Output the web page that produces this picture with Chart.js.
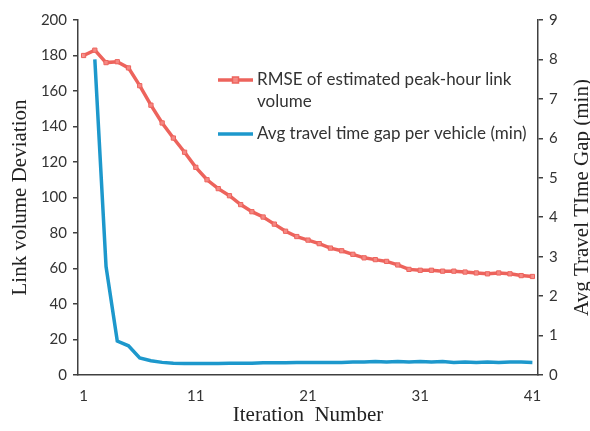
<!DOCTYPE html>
<html><head><meta charset="utf-8">
<script src="https://cdn.jsdelivr.net/npm/chart.js@4"></script>
<style>html,body{margin:0;padding:0;background:#fff}#wrap{width:590px;height:431px}</style>
</head><body><div id="wrap"><canvas id="c" width="590" height="431"></canvas></div>
<script>
const iterations = Array.from({length: 41}, (_, i) => String(i + 1));
const xTickLabels = ['1', '11', '21', '31', '41'];
const seriesNames = ['RMSE of estimated peak-hour link volume', 'Avg travel time gap per vehicle (min)'];
const rmseValues = [180, 183, 176, 176.5, 173, 163, 152, 142, 133.5, 125.5, 117, 110, 105, 101, 96, 92, 89, 85, 81, 78, 76, 74, 71.5, 70, 68, 66, 65, 64, 62, 59.5, 59, 59, 58.5, 58.5, 58, 57.5, 57, 57.5, 57, 56, 55.5];
const gapValues = [null, 8.0, 2.75, 0.86, 0.74, 0.43, 0.36, 0.32, 0.3, 0.29, 0.29, 0.29, 0.29, 0.3, 0.3, 0.3, 0.31, 0.31, 0.31, 0.32, 0.32, 0.32, 0.32, 0.32, 0.33, 0.33, 0.34, 0.33, 0.34, 0.33, 0.34, 0.33, 0.34, 0.32, 0.33, 0.32, 0.33, 0.32, 0.33, 0.33, 0.32];
const leftTitle = 'Link volume Deviation';
const rightTitle = 'Avg Travel TIme Gap (min)';
const xTitle = 'Iteration  Number';

const RED = 'rgb(237,99,92)';
const BLUE = 'rgb(29,152,204)';
const AXIS = '#404040';
const tickFont = {family: 'Lato', size: 15};
const titleFont = {family: 'Liberation Serif', size: 21};

const legendPlugin = {
  id: 'customLegend',
  afterDraw(chart) {
    const ctx = chart.ctx;
    const ca = chart.chartArea;
    const x0 = ca.left + 140, x1 = ca.left + 175, tx = ca.left + 179;
    let y = ca.top + 60;
    ctx.save();
    ctx.font = '17px Lato';
    ctx.textBaseline = 'middle';
    chart.data.datasets.forEach((ds) => {
      const words = ds.label.split(' ');
      const lines = [];
      let cur = '';
      words.forEach(w => {
        const t = cur ? cur + ' ' + w : w;
        if (ctx.measureText(t).width > 270 && cur) { lines.push(cur); cur = w; } else cur = t;
      });
      lines.push(cur);
      ctx.strokeStyle = ds.borderColor;
      ctx.lineWidth = 3.5;
      ctx.beginPath(); ctx.moveTo(x0, y); ctx.lineTo(x1, y); ctx.stroke();
      if (ds.pointRadius > 0) {
        ctx.fillStyle = ds.pointBackgroundColor;
        ctx.strokeStyle = ds.borderColor;
        ctx.lineWidth = 1.5;
        ctx.fillRect((x0 + x1) / 2 - 3, y - 3, 6, 6);
        ctx.strokeRect((x0 + x1) / 2 - 3, y - 3, 6, 6);
      }
      ctx.fillStyle = '#333';
      lines.forEach((l, k) => ctx.fillText(l, tx, y + k * 22));
      y += (lines.length - 1) * 22 + 32;
    });
    const ra = chart.scales.y1;
    ctx.font = titleFont.size + 'px "' + titleFont.family + '"';
    ctx.fillStyle = '#222';
    ctx.textAlign = 'center';
    ctx.translate(ra.right - 8, (ca.top + ca.bottom) / 2);
    ctx.rotate(-Math.PI / 2);
    ctx.fillText(rightTitle, 0, 0);
    ctx.restore();
  }
};

new Chart(document.getElementById('c'), {
  type: 'line',
  data: {
    labels: iterations,
    datasets: [
      {label: seriesNames[0], data: rmseValues, yAxisID: 'y', borderColor: RED, borderWidth: 3.5,
       pointStyle: 'rect', pointRadius: 3, pointBorderWidth: 1, pointBackgroundColor: 'rgba(245,140,135,0.9)', pointBorderColor: RED, tension: 0},
      {label: seriesNames[1], data: gapValues, yAxisID: 'y1', borderColor: BLUE, borderWidth: 3.5,
       pointRadius: 0, tension: 0, spanGaps: false}
    ]
  },
  options: {
    responsive: false,
    animation: false,
    devicePixelRatio: 1,
    layout: {padding: {top: 20, left: 0, right: 0, bottom: 0}},
    plugins: {legend: {display: false}, tooltip: {enabled: false}},
    scales: {
      x: {
        offset: true,
        grid: {display: false, drawTicks: false},
        border: {display: true, color: AXIS, width: 1.5},
        ticks: {autoSkip: false, maxRotation: 0, padding: 12, color: '#333', font: tickFont,
          callback(v, i) { const l = iterations[i]; return xTickLabels.includes(l) ? l : ''; }},
        title: {display: true, text: xTitle, font: titleFont, color: '#222', padding: {top: 0, bottom: 3}},
        afterFit(s) { s.height = 56; }
      },
      y: {
        position: 'left', min: 0, max: 200,
        grid: {display: true, drawOnChartArea: false, drawTicks: true, tickLength: 5, color: AXIS, lineWidth: 1.5},
        border: {display: true, color: AXIS, width: 1.5},
        ticks: {stepSize: 20, padding: 6, color: '#333', font: tickFont},
        title: {display: true, text: leftTitle, font: titleFont, color: '#222', padding: {top: 8, bottom: 4}},
        afterFit(s) { s.width = 78; }
      },
      y1: {
        position: 'right', min: 0, max: 9,
        grid: {display: true, drawOnChartArea: false, drawTicks: true, tickLength: 5, color: AXIS, lineWidth: 1.5},
        border: {display: true, color: AXIS, width: 1.5},
        ticks: {stepSize: 1, padding: 6, color: '#333', font: tickFont},
        title: {display: false},
        afterFit(s) { s.width = 52; }
      }
    }
  },
  plugins: [legendPlugin]
});
</script>
</body></html>
